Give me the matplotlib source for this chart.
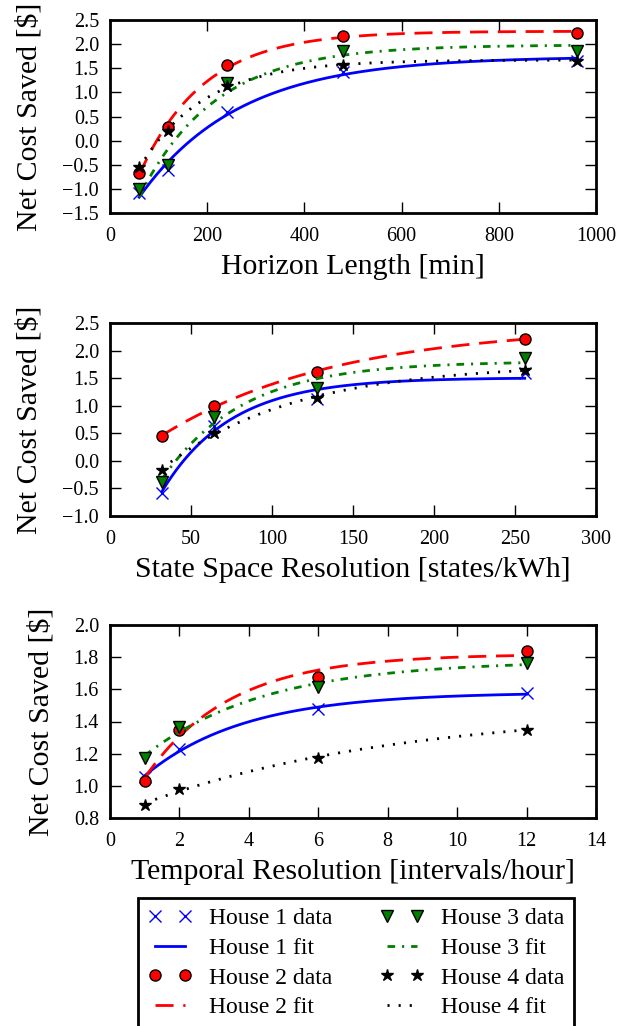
import numpy as np
import matplotlib
matplotlib.use("Agg")
import matplotlib.pyplot as plt

# -------- DATA --------------------------------
horizon_x = [60, 120, 240, 480, 960]
horizon_h1 = [-1.08, -0.60, 0.59, 1.43, 1.66]
horizon_h2 = [-0.67, 0.28, 1.57, 2.16, 2.23]
horizon_h3 = [-1.01, -0.50, 1.19, 1.86, 1.86]
horizon_h4 = [-0.55, 0.19, 1.14, 1.57, 1.66]

states_x = [32, 64, 128, 256]
states_h1 = [-0.59, 0.64, 1.13, 1.59]
states_h2 = [0.45, 0.99, 1.62, 2.21]
states_h3 = [-0.38, 0.80, 1.33, 1.86]
states_h4 = [-0.16, 0.51, 1.14, 1.65]

temporal_x = [1, 2, 6, 12]
temporal_h1 = [1.055, 1.23, 1.476, 1.577]
temporal_h2 = [1.03, 1.345, 1.677, 1.836]
temporal_h3 = [1.17, 1.366, 1.615, 1.764]
temporal_h4 = [0.883, 0.98, 1.175, 1.35]

labels = ["House 1", "House 2", "House 3", "House 4"]

plt.rcParams["font.family"] = ["Liberation Serif", "DejaVu Serif"]
plt.rcParams["lines.scale_dashes"] = False


# -------- FIT: y = a - b*exp(-x/c) ----------
def exp_fit(x, y):
    x = np.asarray(x, float)
    y = np.asarray(y, float)
    best = None
    for c in np.logspace(np.log10(x.max() / 100), np.log10(x.max() * 20), 800):
        A = np.column_stack([np.ones_like(x), -np.exp(-x / c)])
        coef, *_ = np.linalg.lstsq(A, y, rcond=None)
        err = np.sum((A @ coef - y) ** 2)
        if best is None or err < best[0]:
            best = (err, coef[0], coef[1], c)
    _, a, b, c = best
    xs = np.linspace(x.min(), x.max(), 300)
    return xs, a - b * np.exp(-xs / c)


styles = [
    dict(color="#0000ff", marker="x", mfc="#0000ff", mec="#0000ff", ms=9, mew=1.0,
         ls="-", dashes=None),
    dict(color="#ff0000", marker="o", mfc="#ff0000", mec="black", ms=8, mew=1.0,
         ls="--", dashes=(13, 7)),
    dict(color="#007f00", marker="v", mfc="#007f00", mec="black", ms=9, mew=1.0,
         ls="-.", dashes=(5.5, 5, 1.5, 5)),
    dict(color="black", marker="*", mfc="black", mec="black", ms=9, mew=1.0,
         ls=":", dashes=(1.5, 6.5)),
]

panels = [
    (horizon_x, [horizon_h1, horizon_h2, horizon_h3, horizon_h4],
     "Horizon Length [min]", (0, 1000), np.arange(0, 1001, 200),
     (-1.5, 2.5), np.arange(-1.5, 2.51, 0.5)),
    (states_x, [states_h1, states_h2, states_h3, states_h4],
     "State Space Resolution [states/kWh]", (0, 300), np.arange(0, 301, 50),
     (-1.0, 2.5), np.arange(-1.0, 2.51, 0.5)),
    (temporal_x, [temporal_h1, temporal_h2, temporal_h3, temporal_h4],
     "Temporal Resolution [intervals/hour]", (0, 14), np.arange(0, 15, 2),
     (0.8, 2.0), np.arange(0.8, 2.01, 0.2)),
]

W, H = 634, 1026
fig = plt.figure(figsize=(W / 100, H / 100), dpi=100)
# axes boxes in pixels: (left, top, right, bottom)
boxes = [(110, 20, 596, 213), (110, 323, 596, 516), (110, 625, 596, 818)]

handles = []
for i, (x, ys, xlabel, xlim, xt, ylim, yt) in enumerate(panels):
    l, t, r, b = boxes[i]
    ax = fig.add_axes([l / W, 1 - b / H, (r - l) / W, (b - t) / H])
    hs = []
    for y, st, lab in zip(ys, styles, labels):
        xs, yf = exp_fit(x, y)
        line, = ax.plot(xs, yf, color=st["color"], lw=2, ls=st["ls"], label=lab + " fit")
        if st["dashes"] is not None:
            line.set_dashes(st["dashes"])
        pts, = ax.plot(x, y, ls="none", marker=st["marker"], ms=st["ms"],
                       mfc=st["mfc"], mec=st["mec"], mew=st["mew"], label=lab + " data")
        hs.append((pts, line))
    if i == 0:
        handles = hs
    ax.set_xlim(*xlim)
    ax.set_ylim(*ylim)
    ax.set_xticks(xt)
    ax.set_yticks(yt)
    ax.set_yticklabels([("%.1f" % v).replace("-", "\u2212") for v in yt])
    ax.tick_params(direction="in", top=True, right=True, length=8, width=1,
                   labelsize=14.5)
    ax.tick_params(axis="x", pad=10)
    ax.tick_params(axis="y", pad=8)
    for s in ax.spines.values():
        s.set_linewidth(2)
    ax.set_xlabel(xlabel, fontsize=21.5, labelpad=6)
    ax.set_ylabel("Net Cost Saved [$]", fontsize=21.5, labelpad=14)

order = [handles[0][0], handles[0][1], handles[1][0], handles[1][1],
         handles[2][0], handles[2][1], handles[3][0], handles[3][1]]
leg = fig.legend(handles=order, labels=[h.get_label() for h in order],
                 loc="upper center", bbox_to_anchor=(356 / W, 1 - 898 / H),
                 ncol=2, numpoints=2, fontsize=17, borderaxespad=0,
                 handlelength=1.9, handletextpad=0.7, columnspacing=2.0,
                 labelspacing=0.35, fancybox=False, frameon=True, framealpha=1)
leg.get_frame().set_edgecolor("black")
leg.get_frame().set_linewidth(2)

fig.savefig("out.png", dpi=100)
